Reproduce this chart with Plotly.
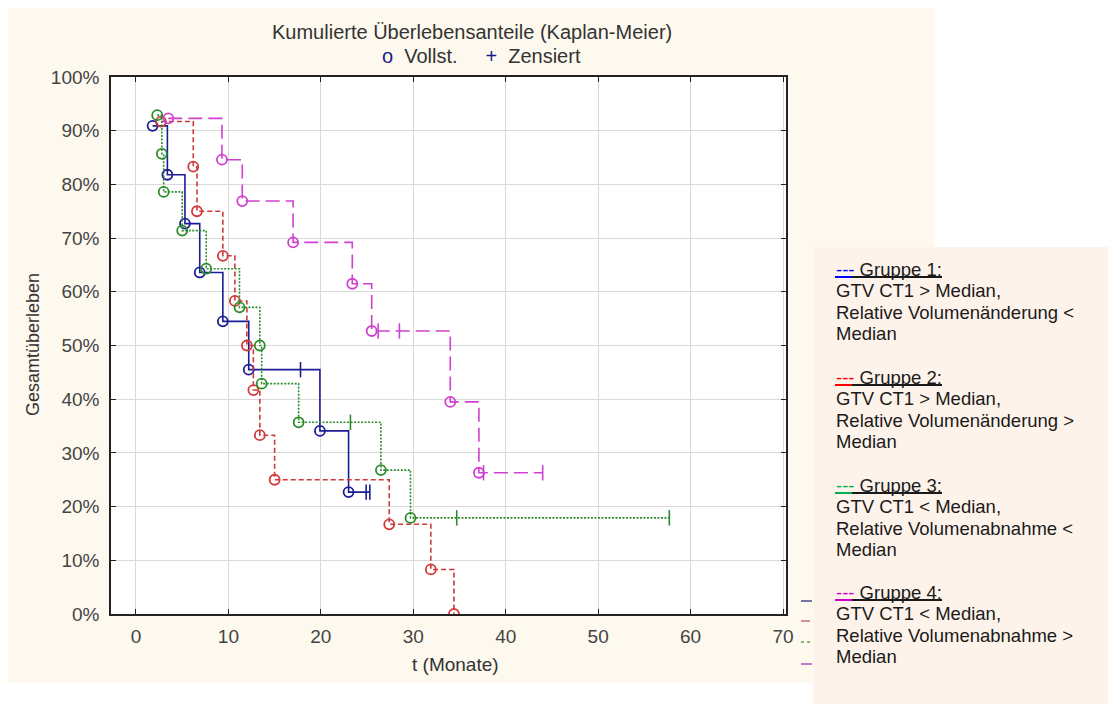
import plotly.graph_objects as go

# ---------------- data ----------------
g1_time = [1.8, 3.4, 5.3, 6.9, 9.4, 12.2, 17.8, 19.9, 23.0, 24.9, 25.3]
g1_surv = [90.9, 81.8, 72.7, 63.6, 54.5, 45.5, 45.5, 34.1, 22.7, 22.7, 22.7]
g1_cens = [0, 0, 0, 0, 0, 0, 1, 0, 0, 1, 1]

g2_time = [2.7, 6.2, 6.6, 9.4, 10.7, 12.0, 12.7, 13.4, 15.0, 27.4, 31.9, 34.4]
g2_surv = [91.7, 83.3, 75.0, 66.7, 58.3, 50.0, 41.7, 33.3, 25.0, 16.7, 8.3, 0.0]
g2_cens = [0, 0, 0, 0, 0, 0, 0, 0, 0, 0, 0, 0]

g3_time = [2.3, 2.8, 3.0, 5.0, 7.6, 11.2, 13.4, 13.6, 17.6, 23.2, 26.5, 29.7, 34.7, 57.7]
g3_surv = [92.9, 85.7, 78.6, 71.4, 64.3, 57.1, 50.0, 42.9, 35.7, 35.7, 26.8, 17.9, 17.9, 17.9]
g3_cens = [0, 0, 0, 0, 0, 0, 0, 0, 0, 1, 0, 0, 1, 1]

g4_time = [3.5, 9.3, 11.5, 17.0, 23.4, 25.5, 26.2, 28.5, 34.0, 37.1, 37.6, 44.0]
g4_surv = [92.3, 84.6, 76.9, 69.2, 61.5, 52.7, 52.7, 52.7, 39.5, 26.3, 26.3, 26.3]
g4_cens = [0, 0, 0, 0, 0, 0, 1, 1, 0, 0, 1, 1]

x_ticks = [0, 10, 20, 30, 40, 50, 60, 70]
y_ticks = [0, 10, 20, 30, 40, 50, 60, 70, 80, 90, 100]

title_line1 = "Kumulierte Überlebensanteile (Kaplan-Meier)"
x_title = "t (Monate)"
y_title = "Gesamtüberleben"

legend_groups = [
    ("Gruppe 1:", ["GTV CT1 > Median,", "Relative Volumenänderung <", "Median"]),
    ("Gruppe 2:", ["GTV CT1 > Median,", "Relative Volumenänderung >", "Median"]),
    ("Gruppe 3:", ["GTV CT1 < Median,", "Relative Volumenabnahme <", "Median"]),
    ("Gruppe 4:", ["GTV CT1 < Median,", "Relative Volumenabnahme >", "Median"]),
]

# ---------------- styles ----------------
FONT = "Liberation Sans, Arial, sans-serif"
line_colors = ["#1c1c96", "#d03a3a", "#2c8c2c", "#d040d0"]
line_dash = ["solid", "5px,3px", "2px,1.5px", "14px,6px"]
legend_colors = ["#0000ff", "#ff0000", "#00b050", "#cc00cc"]

W, H = 1108, 704
L, R, T, B = 111, 786, 77, 614


def px(x):
    return (x - L) / (R - L)


def py(y):
    return (B - y) / (B - T)


fig = go.Figure()

groups = [(g1_time, g1_surv, g1_cens), (g2_time, g2_surv, g2_cens),
          (g3_time, g3_surv, g3_cens), (g4_time, g4_surv, g4_cens)]

for i, (t, s, c) in enumerate(groups):
    col = line_colors[i]
    fig.add_trace(go.Scatter(x=t, y=s, mode="lines", line=dict(color=col, width=1.6, dash=line_dash[i], shape="hv"),
                             showlegend=False, hoverinfo="skip"))
    ev_t = [tt for tt, cc in zip(t, c) if cc == 0]
    ev_s = [ss for ss, cc in zip(s, c) if cc == 0]
    ce_t = [tt for tt, cc in zip(t, c) if cc == 1]
    ce_s = [ss for ss, cc in zip(s, c) if cc == 1]
    fig.add_trace(go.Scatter(x=ev_t, y=ev_s, mode="markers",
                             marker=dict(symbol="circle-open", size=10, color=col, line=dict(width=1.8, color=col)),
                             showlegend=False))
    if ce_t:
        fig.add_trace(go.Scatter(x=ce_t, y=ce_s, mode="markers",
                                 marker=dict(symbol="line-ns", size=11, color=col, line=dict(width=1.6, color=col)),
                                 showlegend=False))

shapes = []
# cream chart background and white plot area
shapes.append(dict(type="rect", xref="paper", yref="paper", x0=px(8), x1=px(935), y0=py(683), y1=py(8),
                   fillcolor="#fef9ee", line=dict(width=0), layer="below"))
shapes.append(dict(type="rect", xref="paper", yref="paper", x0=0, x1=1, y0=0, y1=1,
                   fillcolor="#ffffff", line=dict(width=0), layer="below"))
# leftover legend samples beside the plot
for yy, col, dash in [(601, "#4a4a8a", "solid"), (621, "#c07070", "dash"), (642, "#60a060", "dot"), (664, "#b050c0", "solid")]:
    shapes.append(dict(type="line", xref="paper", yref="paper", x0=px(801), x1=px(812), y0=py(yy), y1=py(yy),
                       line=dict(color=col, width=1.5, dash=dash), layer="above"))
# legend text box
shapes.append(dict(type="rect", xref="paper", yref="paper", x0=px(813), x1=px(1108), y0=py(704), y1=py(247),
                   fillcolor="#fdf3ea", line=dict(width=0), layer="above"))

annotations = []
annotations.append(dict(text=title_line1, xref="paper", yref="paper", x=px(472), y=py(32), showarrow=False,
                        xanchor="center", yanchor="middle", font=dict(family=FONT, size=20, color="#333333")))
annotations.append(dict(text="<span style='color:#1a1a8c'>o</span>&nbsp;&nbsp;Vollst.&nbsp;&nbsp;&nbsp;&nbsp;&nbsp;<span style='color:#1a1a8c'>+</span>&nbsp;&nbsp;Zensiert",
                        xref="paper", yref="paper", x=px(482), y=py(56), showarrow=False,
                        xanchor="center", yanchor="middle", font=dict(family=FONT, size=20, color="#333333")))
annotations.append(dict(text=x_title, xref="paper", yref="paper", x=px(455), y=py(664), showarrow=False,
                        xanchor="center", yanchor="middle", font=dict(family=FONT, size=19, color="#333333")))
annotations.append(dict(text=y_title, xref="paper", yref="paper", x=px(33), y=py(345), showarrow=False, textangle=-90,
                        xanchor="center", yanchor="middle", font=dict(family=FONT, size=18, color="#333333")))

# legend text
group_tops = [269, 377, 485, 592]
for gi, (head, lines) in enumerate(legend_groups):
    y0 = group_tops[gi]
    annotations.append(dict(text=f"<span style='color:{legend_colors[gi]}'>---</span> {head}", xref="paper", yref="paper",
                            x=px(834), y=py(y0), showarrow=False, xanchor="left", yanchor="middle",
                            font=dict(family=FONT, size=18.5, color="#1a1a1a")))
    # underline
    shapes.append(dict(type="line", xref="paper", yref="paper", x0=px(835), x1=px(852), y0=py(y0 + 8), y1=py(y0 + 8),
                       line=dict(color=legend_colors[gi], width=2), layer="above"))
    shapes.append(dict(type="line", xref="paper", yref="paper", x0=px(852), x1=px(942), y0=py(y0 + 8), y1=py(y0 + 8),
                       line=dict(color="#1a1a1a", width=2), layer="above"))
    for li, txt in enumerate(lines):
        annotations.append(dict(text=txt, xref="paper", yref="paper", x=px(834), y=py(y0 + 21.5 * (li + 1)),
                                showarrow=False, xanchor="left", yanchor="middle",
                                font=dict(family=FONT, size=18.5, color="#1a1a1a")))

fig.update_layout(
    width=W, height=H,
    margin=dict(l=L, r=W - R, t=T, b=H - B, pad=0),
    paper_bgcolor="#ffffff", plot_bgcolor="#ffffff",
    shapes=shapes, annotations=annotations,
    showlegend=False,
    font=dict(family=FONT, size=19, color="#444444"),
)
fig.update_xaxes(range=[-2.70, 70.32], tickvals=x_ticks, ticktext=[str(v) for v in x_ticks],
                 showgrid=True, gridcolor="#d9d9d9", gridwidth=1, zeroline=False,
                 showline=True, linecolor="#222222", linewidth=1.5, mirror="ticks",
                 ticks="inside", ticklen=5, tickcolor="#222222", tickwidth=1.2,
                 tickfont=dict(family=FONT, size=19, color="#444444"), ticklabelstandoff=4)
fig.update_yaxes(range=[0, 100], tickvals=y_ticks, ticktext=[f"{v}%" for v in y_ticks],
                 showgrid=True, gridcolor="#d9d9d9", gridwidth=1, zeroline=False,
                 showline=True, linecolor="#222222", linewidth=1.5, mirror="ticks",
                 ticks="inside", ticklen=5, tickcolor="#222222", tickwidth=1.2,
                 tickfont=dict(family=FONT, size=19, color="#444444"), ticklabelstandoff=6)

fig.write_html("out.html")
